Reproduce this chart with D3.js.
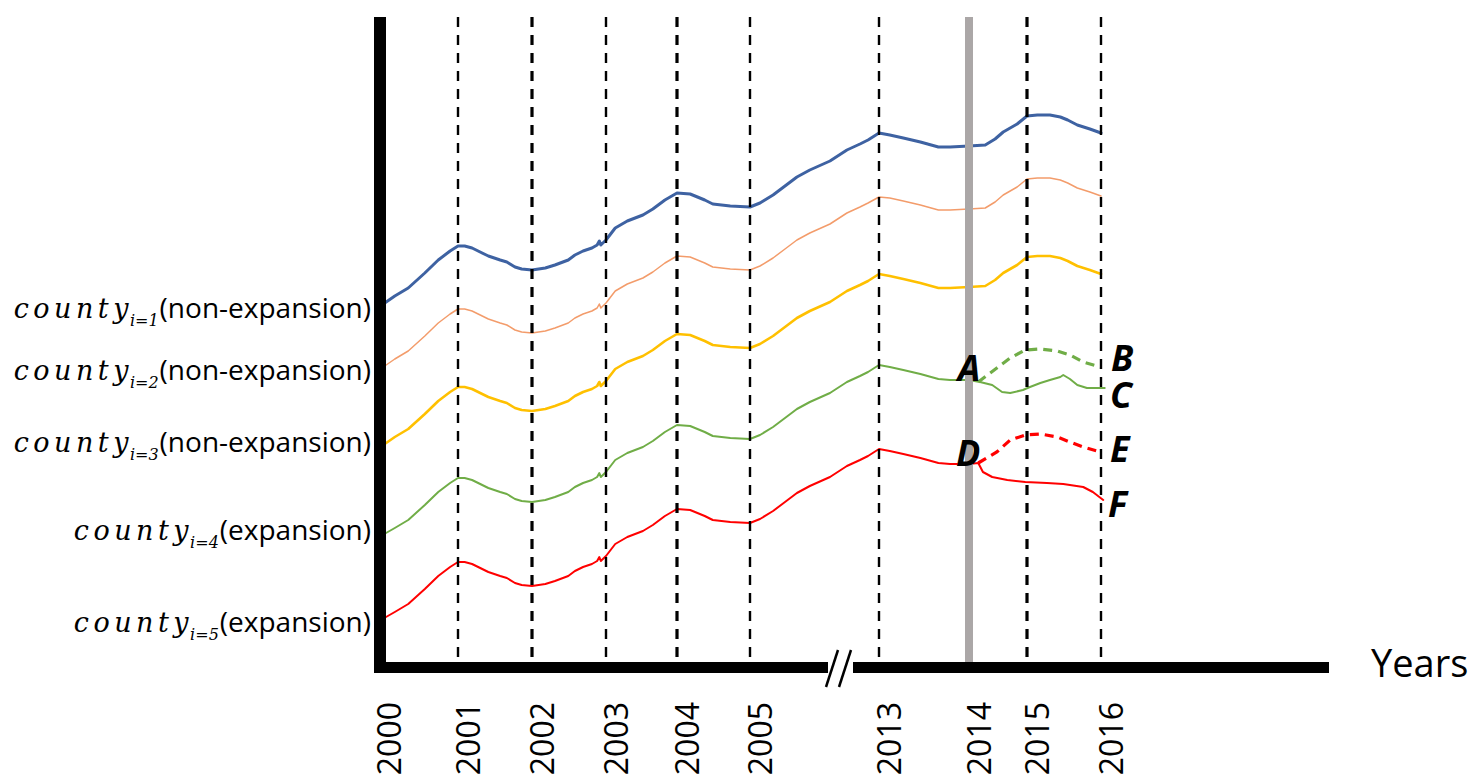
<!DOCTYPE html>
<html><head><meta charset="utf-8">
<script src="https://cdn.jsdelivr.net/npm/d3@7"></script>
<style>body{margin:0;background:#fff;} svg{display:block;}</style>
</head><body><svg id="c" width="1474" height="781"></svg>
<script>
// ---------- data ----------
const tickYears = [2000, 2001, 2002, 2003, 2004, 2005, 2013, 2014, 2015, 2016];
const gridYears = [2001, 2002, 2003, 2004, 2005, 2013, 2015, 2016];
const policyYear = 2014;

const years = [2000.00, 2000.20, 2000.37, 2000.58, 2000.75, 2000.90,
  2001.00, 2001.09, 2001.19, 2001.41, 2001.57, 2001.66, 2001.77, 2001.86,
  2002.00, 2002.18, 2002.31, 2002.49, 2002.58, 2002.69, 2002.81, 2002.88, 2002.91, 2002.93,
  2003.00, 2003.13, 2003.30, 2003.52, 2003.66, 2003.83,
  2004.00, 2004.18, 2004.38, 2004.49, 2004.73,
  2005.00, 2005.62, 2006.43, 2007.17, 2007.91, 2008.71, 2009.96, 2011.01, 2011.82, 2012.32,
  2013.00, 2013.12, 2013.27, 2013.46, 2013.66, 2013.79,
  2014.00, 2014.28, 2014.45, 2014.59, 2014.83,
  2015.00, 2015.14, 2015.31, 2015.45, 2015.55, 2015.68, 2015.85,
  2016.00];

const county1 = [355, 366, 374, 389, 402, 411,
  416, 416, 414, 406, 402, 400, 395, 393,
  392, 394, 397, 402, 407, 411, 414, 417, 421, 417,
  422, 434, 441, 447, 453, 462,
  469, 468, 462, 458, 456,
  455, 459, 467, 476, 485, 492, 501, 512, 518, 522,
  529, 527, 524, 520, 515, 515,
  516, 517, 523, 530, 538,
  546, 547, 547, 545, 542, 537, 533,
  529];

const county2 = [292, 303, 311, 326, 339, 348,
  353, 353, 351, 343, 339, 337, 332, 330,
  329, 331, 334, 339, 344, 348, 351, 354, 358, 354,
  359, 371, 378, 384, 390, 399,
  406, 405, 399, 395, 393,
  392, 396, 404, 413, 422, 429, 438, 449, 455, 459,
  465, 464, 461, 457, 452, 452,
  453, 454, 460, 467, 475,
  483, 484, 484, 482, 479, 474, 470,
  466];

const county3 = [214, 225, 233, 248, 261, 270,
  275, 275, 273, 265, 261, 259, 254, 252,
  251, 253, 256, 261, 266, 270, 273, 276, 280, 276,
  281, 293, 300, 306, 312, 321,
  328, 327, 321, 317, 315,
  314, 318, 326, 335, 344, 351, 360, 371, 377, 381,
  388, 386, 383, 379, 374, 374,
  375, 376, 382, 389, 397,
  405, 406, 406, 404, 401, 396, 392,
  388];

// expansion counties: observed until 2014
const county4 = [125, 134, 142, 157, 170, 179,
  184, 184, 182, 174, 170, 168, 163, 161,
  160, 162, 165, 170, 175, 179, 182, 185, 189, 185,
  190, 202, 209, 215, 221, 230,
  237, 236, 230, 226, 224,
  223, 227, 235, 244, 253, 260, 269, 280, 286, 290,
  297, 295, 292, 288, 283, 282,
  282];
const county4ActualYears = [2014.19, 2014.40, 2014.57, 2014.71, 2014.93, 2015.04, 2015.18, 2015.31, 2015.45, 2015.49, 2015.58, 2015.68, 2015.81, 2016.05];
const county4Actual = [280, 277, 270, 269, 272, 275, 279, 282, 285, 287, 283, 277, 274, 274];
const county4CfYears = [2014.16, 2014.48, 2014.71, 2014.97, 2015.18, 2015.41, 2015.58, 2015.76, 2015.99];
const county4Counterfactual = [280, 294, 304, 312, 313, 311, 307, 300, 295];

const county5 = [41, 50, 58, 73, 86, 95,
  100, 100, 98, 90, 86, 84, 79, 77,
  76, 78, 81, 86, 91, 95, 98, 101, 105, 101,
  106, 118, 125, 131, 137, 146,
  153, 152, 146, 142, 140,
  139, 143, 151, 160, 169, 176, 185, 196, 202, 206,
  213, 211, 208, 204, 199, 198,
  198];
const county5ActualYears = [2014.16, 2014.24, 2014.40, 2014.66, 2014.97, 2015.27, 2015.49, 2015.76, 2015.89, 2016.03];
const county5Actual = [199, 190, 185, 182, 180, 179, 178, 175, 170, 162];
const county5CfYears = [2014.16, 2014.48, 2014.71, 2014.97, 2015.18, 2015.41, 2015.58, 2015.76, 2015.99];
const county5Counterfactual = [199, 210, 222, 227, 228, 225, 220, 215, 210];

const countyNames = ["county", "county", "county", "county", "county"];
const countySubs = ["i=1", "i=2", "i=3", "i=4", "i=5"];
const countyTypes = ["(non-expansion)", "(non-expansion)", "(non-expansion)", "(expansion)", "(expansion)"];
const pointLetters = ["A", "B", "C", "D", "E", "F"];
const xTitle = "Years";

// ---------- drawing ----------
const svg = d3.select("#c");
const x = d3.scaleLinear().domain(tickYears).range([379, 458, 532, 606, 677, 750, 879, 969, 1027, 1101]);
const y = d3.scaleLinear().domain([0, 645]).range([662, 17]);
const line = d3.line().x(d => x(d[0])).y(d => y(d[1]));
const zip = (xs, vs) => vs.map((v, i) => [xs[i], v]);

const obsYears = years.slice(0, county4.length);
const series = [
  {pts: zip(years, county1), color: "#3E62A2", w: 3},
  {pts: zip(years, county2), color: "#F39C6B", w: 1.5},
  {pts: zip(years, county3), color: "#FFC000", w: 2.6},
  {pts: zip(obsYears, county4).concat(zip(county4ActualYears, county4Actual)), color: "#70AD47", w: 2},
  {pts: zip(obsYears, county5).concat(zip(county5ActualYears, county5Actual)), color: "#FF0000", w: 2}
];
const firstVals = [county1[0], county2[0], county3[0], county4[0], county5[0]];

series.forEach(s => {
  svg.append("path").attr("d", line(s.pts)).attr("fill", "none")
    .attr("stroke", s.color).attr("stroke-width", s.w)
    .attr("stroke-linejoin", "round").attr("stroke-linecap", "round");
});

// counterfactual dashed
[[zip(county4CfYears, county4Counterfactual), "#70AD47"],
 [zip(county5CfYears, county5Counterfactual), "#FF0000"]].forEach(([pts, c]) => {
  svg.append("path").attr("d", line(pts)).attr("fill", "none")
    .attr("stroke", c).attr("stroke-width", 3.2).attr("stroke-dasharray", "9,6");
});

// dashed year lines
const thick = new Set([2002, 2004, 2015]);
gridYears.forEach(yr => {
  svg.append("line").attr("x1", x(yr)).attr("x2", x(yr)).attr("y1", 17).attr("y2", 662)
    .attr("stroke", "#000").attr("stroke-width", thick.has(yr) ? 3.2 : 2.4)
    .attr("stroke-dasharray", "10,8");
});

// policy year line
svg.append("line").attr("x1", x(policyYear)).attr("x2", x(policyYear)).attr("y1", 17).attr("y2", 662)
  .attr("stroke", "#ABA7A7").attr("stroke-width", 8);

// axes
svg.append("rect").attr("x", 374).attr("y", 17).attr("width", 12).attr("height", 656).attr("fill", "#000");
svg.append("rect").attr("x", 374).attr("y", 662).attr("width", 454).attr("height", 11).attr("fill", "#000");
svg.append("rect").attr("x", 853).attr("y", 662).attr("width", 476).attr("height", 11).attr("fill", "#000");
[[826, 838], [839, 851]].forEach(([a, b]) => {
  svg.append("line").attr("x1", a).attr("y1", 687).attr("x2", b).attr("y2", 650)
    .attr("stroke", "#000").attr("stroke-width", 2.5);
});

const ax = svg.append("g").attr("transform", "translate(0,667)")
  .call(d3.axisBottom(x).tickValues(tickYears).tickFormat(d3.format("d")).tickSize(0));
ax.select(".domain").remove();
ax.selectAll("text")
  .attr("transform", "rotate(-90)").attr("text-anchor", "end")
  .attr("x", -35).attr("y", 21).attr("dy", 0)
  .attr("font-family", "'Open Sans', sans-serif").attr("font-size", 32).attr("fill", "#000");

svg.append("text").attr("x", 1371).attr("y", 677).text(xTitle)
  .attr("font-family", "'Open Sans', sans-serif").attr("font-size", 38).attr("fill", "#000");

// county labels (baseline offsets relative to each series' start)
const labelShift = [11, 10, 4, 3, 11];
firstVals.forEach((v, i) => {
  const t = svg.append("text").attr("x", 371).attr("y", y(v) + labelShift[i]).attr("text-anchor", "end").attr("fill", "#000");
  t.append("tspan").text(countyNames[i])
    .attr("font-family", "'DejaVu Serif', serif").attr("font-style", "italic")
    .attr("font-size", 27).attr("letter-spacing", 4.5);
  t.append("tspan").text(countySubs[i]).attr("dy", 8).attr("dx", -3)
    .attr("font-family", "'DejaVu Serif', serif").attr("font-style", "italic").attr("font-size", 16);
  t.append("tspan").text(countyTypes[i]).attr("dy", -8).attr("dx", 1)
    .attr("font-family", "'Open Sans', sans-serif").attr("font-size", 28);
});

// point letters
const letterPos = [
  [x(county4CfYears[0]) + 2, y(county4[county4.length - 1]) + 1, "end"],
  [x(2016) + 10, y(county4Counterfactual[county4Counterfactual.length - 1]) + 4, "start"],
  [x(2016) + 9, y(county4Actual[county4Actual.length - 1]) + 20, "start"],
  [x(county5CfYears[0]) + 2, y(county5[county5.length - 1]) + 2, "end"],
  [x(2016) + 9, y(county5Counterfactual[county5Counterfactual.length - 1]) + 10, "start"],
  [x(2016) + 7, y(county5Actual[county5Actual.length - 1]) + 17, "start"]
];
pointLetters.forEach((L, i) => {
  svg.append("text").attr("x", letterPos[i][0]).attr("y", letterPos[i][1])
    .attr("text-anchor", letterPos[i][2]).text(L)
    .attr("font-family", "'Open Sans', sans-serif").attr("font-weight", "bold").attr("font-style", "italic")
    .attr("font-size", 36).attr("fill", "#000");
});
</script></body></html>
